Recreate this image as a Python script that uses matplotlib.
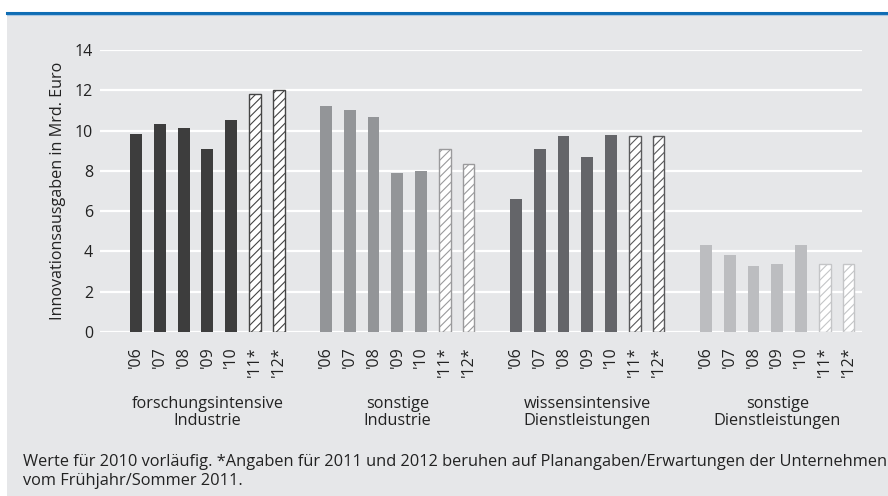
import numpy as np
import matplotlib.pyplot as plt
from matplotlib.patches import Rectangle
from matplotlib.lines import Line2D

plt.rcParams['font.family'] = ['Open Sans', 'DejaVu Sans']
plt.rcParams['hatch.linewidth'] = 0.8

years = ["'06", "'07", "'08", "'09", "'10", "'11*", "'12*"]
groups = ["forschungsintensive\nIndustrie", "sonstige\nIndustrie",
          "wissensintensive\nDienstleistungen", "sonstige\nDienstleistungen"]
forschung_ind = [9.83, 10.31, 10.13, 9.09, 10.53, 11.82, 12.0]
sonstige_ind = [11.2, 11.0, 10.65, 7.88, 7.99, 9.1, 8.32]
wissen_dl = [6.6, 9.1, 9.75, 8.7, 9.8, 9.75, 9.75]
sonstige_dl = [4.32, 3.82, 3.28, 3.38, 4.32, 3.39, 3.39]
n_actual = 5  # '06 - '10 filled, rest planned (hatched)

series = [forschung_ind, sonstige_ind, wissen_dl, sonstige_dl]
fills = ['#3d3d3d', '#939598', '#646569', '#bcbdc0']
hatch_edges = ['#454545', '#9a9a9c', '#5a5a5c', '#c4c5c7']
bg = '#e6e7e9'
txt = '#222222'

fig = plt.figure(figsize=(8.88, 4.96), dpi=100)
fig.patch.set_facecolor('white')

# grey panel and blue rule at the top
fig.patches.append(Rectangle((7 / 888, 0), 1, 1 - 15 / 496, transform=fig.transFigure,
                             facecolor=bg, edgecolor='none', zorder=-5))
fig.lines.append(Line2D([7 / 888, 1], [1 - 13 / 496] * 2, transform=fig.transFigure,
                        color='#0f6db4', lw=2.2, zorder=-4))
fig.lines.append(Line2D([7 / 888, 1], [1 - 15 / 496] * 2, transform=fig.transFigure,
                        color='#a9c6e2', lw=0.8, zorder=-4))

ax = fig.add_axes([100 / 888, 1 - 332 / 496, 762 / 888, 282 / 496])
ax.set_facecolor(bg)

positions = []
labels = []
for g, vals in enumerate(series):
    x = g * 8 + np.arange(len(years))
    positions.extend(x)
    labels.extend(years)
    ax.bar(x[:n_actual], vals[:n_actual], width=0.5, color=fills[g], zorder=3)
    ax.bar(x[n_actual:], vals[n_actual:], width=0.5, facecolor='white',
           edgecolor=hatch_edges[g], hatch='////', linewidth=1.0, zorder=3)
    ax.text(g * 8 + 3, -0.285, groups[g], transform=ax.get_xaxis_transform(),
            ha='center', va='center', fontsize=11.7, color=txt, linespacing=1.05)

ax.set_xlim(-1.52, 30.57)
ax.set_ylim(0, 14)
ax.set_yticks(np.arange(0, 15, 2))
ax.yaxis.grid(True, color='white', lw=1.6, zorder=1)
ax.set_axisbelow(True)
for s in ax.spines.values():
    s.set_visible(False)

ax.set_xticks(positions)
ax.set_xticklabels(labels, rotation=90, fontsize=11.5, color=txt)
ax.tick_params(axis='x', length=0, pad=10)
ax.tick_params(axis='y', length=0, pad=5, labelsize=11.5, labelcolor=txt)
ax.set_ylabel('Innovationsausgaben in Mrd. Euro', fontsize=11.6, color=txt, labelpad=6)

fig.text(23 / 888, 1 - 471.5 / 496,
         'Werte für 2010 vorläufig. *Angaben für 2011 und 2012 beruhen auf Planangaben/Erwartungen der Unternehmen\n'
         'vom Frühjahr/Sommer 2011.',
         ha='left', va='center', fontsize=11.8, color=txt, linespacing=1.2)

fig.savefig('out.png', dpi=100, facecolor=fig.get_facecolor())
